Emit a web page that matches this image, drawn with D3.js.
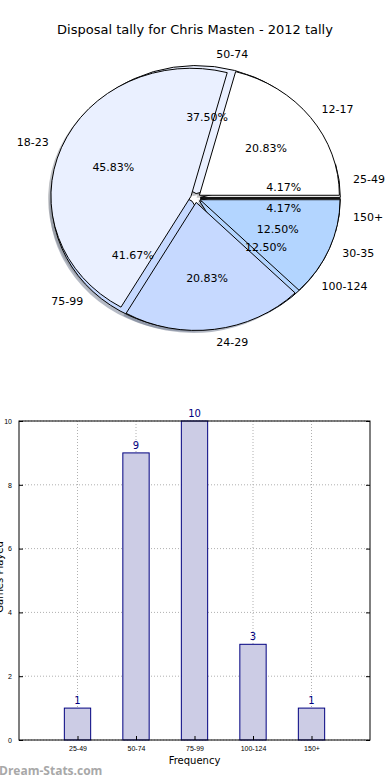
<!DOCTYPE html>
<meta charset="utf-8">
<html>
<style>
body { margin: 0; background: #fff; }
svg { display: block; font-family: "DejaVu Sans", sans-serif; }
.grid line { stroke: #b0b0b0; stroke-width: 1; stroke-dasharray: 1,2; }
.tick text { font-size: 7px; fill: #000; }
</style>
<body>
<script src="https://cdnjs.cloudflare.com/ajax/libs/d3/7.8.5/d3.min.js"></script>
<script>
	// pie data: two pies drawn over each other
	var freqLabels = ["25-49", "50-74", "75-99", "100-124", "150+"];
	var freqCounts = [1, 9, 10, 3, 1];
	var ageLabels = ["12-17", "18-23", "24-29", "30-35"];
	var ageCounts = [5, 11, 5, 3];
	var pieColors = ["#ffffff", "#eaf0ff", "#c6d9ff", "#b3d5ff", "#ffffff"];

	// bar data
	var barCategories = freqLabels;
	var barValues = freqCounts;
	var yTicks = [0, 2, 4, 6, 8, 10];

	var width = 390;
	var height = 780;

	var svg = d3.select("body")
				.append("svg")
				.attr("width", width)
				.attr("height", height);

	svg.append("text")
		.attr("x", 195)
		.attr("y", 34)
		.attr("text-anchor", "middle")
		.style("font-size", "13px")
		.text("Disposal tally for Chris Masten - 2012 tally");

	// ---- pie ----
	var cx = 195.5, cy = 198, rx = 140, ry = 128;
	var explode = 0.035;

	var pie = d3.pie().sort(null).startAngle(Math.PI / 2).endAngle(Math.PI / 2 - 2 * Math.PI);
	var arc = d3.arc().innerRadius(0).outerRadius(1);

	// matplotlib style angle (ccw from east) of a slice midpoint
	function midTheta(d) {
		return Math.PI / 2 - (d.startAngle + d.endAngle) / 2;
	}

	function buildSlices(labels, counts) {
		var total = d3.sum(counts);
		return pie(counts).map(function(d, i) {
			var t = midTheta(d);
			return {
				arc: d,
				label: labels[i],
				pct: (100 * counts[i] / total).toFixed(2) + "%",
				color: pieColors[i % pieColors.length],
				t: t,
				ox: cx + explode * rx * Math.cos(t),
				oy: cy - explode * ry * Math.sin(t)
			};
		});
	}

	var freqSlices = buildSlices(freqLabels, freqCounts);
	var ageSlices = buildSlices(ageLabels, ageCounts);
	var allSlices = freqSlices.concat(ageSlices);

	var pieG = svg.append("g").attr("class", "pie");

	// shadows sit below every wedge
	pieG.append("g").selectAll("path")
		.data(allSlices)
		.enter()
		.append("path")
		.attr("transform", d => "translate(" + (d.ox - 0.02 * rx) + "," + (d.oy + 0.02 * ry) + ") scale(" + rx + "," + ry + ")")
		.attr("d", d => arc(d.arc))
		.attr("fill", d => d3.color(d.color).darker(1.7))
		.attr("opacity", 0.5);

	[freqSlices, ageSlices].forEach(function(slices) {
		pieG.append("g").selectAll("path")
			.data(slices)
			.enter()
			.append("path")
			.attr("transform", d => "translate(" + d.ox + "," + d.oy + ") scale(" + rx + "," + ry + ")")
			.attr("d", d => arc(d.arc))
			.attr("fill", d => d.color)
			.attr("stroke", "#000")
			.attr("stroke-width", 1)
			.attr("vector-effect", "non-scaling-stroke");
	});

	var labelG = pieG.append("g").style("font-size", "11px");

	labelG.selectAll("text.lbl")
		.data(allSlices)
		.enter()
		.append("text")
		.attr("class", "lbl")
		.attr("x", d => d.ox + 1.1 * rx * Math.cos(d.t))
		.attr("y", d => d.oy - 1.1 * ry * Math.sin(d.t))
		.attr("dy", "0.35em")
		.attr("text-anchor", d => Math.cos(d.t) > 0 ? "start" : "end")
		.text(d => d.label);

	labelG.selectAll("text.pct")
		.data(allSlices)
		.enter()
		.append("text")
		.attr("class", "pct")
		.attr("x", d => d.ox + 0.6 * rx * Math.cos(d.t))
		.attr("y", d => d.oy - 0.6 * ry * Math.sin(d.t))
		.attr("dy", "0.35em")
		.attr("text-anchor", "middle")
		.text(d => d.pct);

	// ---- bar chart ----
	var plot = {left: 19, right: 370, top: 421, bottom: 740};

	var x = d3.scaleLinear().domain([0, barCategories.length + 1]).range([plot.left, plot.right]);
	var y = d3.scaleLinear().domain([0, 10]).range([plot.bottom, plot.top]);
	var barW = x(0.45) - x(0);

	var barG = svg.append("g");

	var grid = barG.append("g").attr("class", "grid");
	grid.selectAll("line.v")
		.data(barCategories)
		.enter()
		.append("line")
		.attr("x1", (d, i) => x(i + 1))
		.attr("x2", (d, i) => x(i + 1))
		.attr("y1", plot.top)
		.attr("y2", plot.bottom);
	grid.selectAll("line.h")
		.data(yTicks)
		.enter()
		.append("line")
		.attr("x1", plot.left)
		.attr("x2", plot.right)
		.attr("y1", d => y(d))
		.attr("y2", d => y(d));

	barG.selectAll("rect.bar")
		.data(barValues)
		.enter()
		.append("rect")
		.attr("class", "bar")
		.attr("x", (d, i) => x(i + 1) - barW / 2)
		.attr("y", d => y(d))
		.attr("width", barW)
		.attr("height", d => y(0) - y(d))
		.attr("fill", "#ccccE5")
		.attr("stroke", "#000080")
		.attr("stroke-width", 1);

	barG.selectAll("text.val")
		.data(barValues)
		.enter()
		.append("text")
		.attr("class", "val")
		.attr("x", (d, i) => x(i + 1))
		.attr("y", d => y(d) - 4)
		.attr("text-anchor", "middle")
		.attr("fill", "#000080")
		.style("font-size", "10px")
		.text(d => d);

	var yAxis = d3.axisLeft(y).tickValues(yTicks).tickSize(-4).tickPadding(7);
	barG.append("g")
		.attr("transform", "translate(" + plot.left + ",0)")
		.call(yAxis)
		.call(g => g.select(".domain").remove())
		.call(g => g.selectAll(".tick line").attr("stroke", "#000"));

	var yAxisR = d3.axisRight(y).tickValues(yTicks).tickSize(-4).tickFormat("");
	barG.append("g")
		.attr("transform", "translate(" + plot.right + ",0)")
		.call(yAxisR)
		.call(g => g.select(".domain").remove());

	var xAxis = d3.axisBottom(x)
		.tickValues(d3.range(1, barCategories.length + 1))
		.tickFormat(d => barCategories[d - 1])
		.tickSize(-4)
		.tickPadding(6);
	barG.append("g")
		.attr("transform", "translate(0," + plot.bottom + ")")
		.call(xAxis)
		.call(g => g.select(".domain").remove());

	barG.append("rect")
		.attr("x", plot.left)
		.attr("y", plot.top)
		.attr("width", plot.right - plot.left)
		.attr("height", plot.bottom - plot.top)
		.attr("fill", "none")
		.attr("stroke", "#000")
		.attr("stroke-width", 1);

	barG.append("text")
		.attr("x", x(3))
		.attr("y", 764)
		.attr("text-anchor", "middle")
		.style("font-size", "10px")
		.text("Frequency");

	// y label sits mostly off the left edge, as in the source image
	barG.append("text")
		.attr("transform", "translate(3,577) rotate(-90)")
		.attr("text-anchor", "middle")
		.style("font-size", "10px")
		.text("Games Played");

	svg.append("text")
		.attr("x", -1)
		.attr("y", 775)
		.style("font-family", "'Open Sans', sans-serif")
		.style("font-weight", "700")
		.style("font-size", "12px")
		.attr("fill", "#a8a8a8")
		.text("Dream-Stats.com");
</script>
</body>
</html>
